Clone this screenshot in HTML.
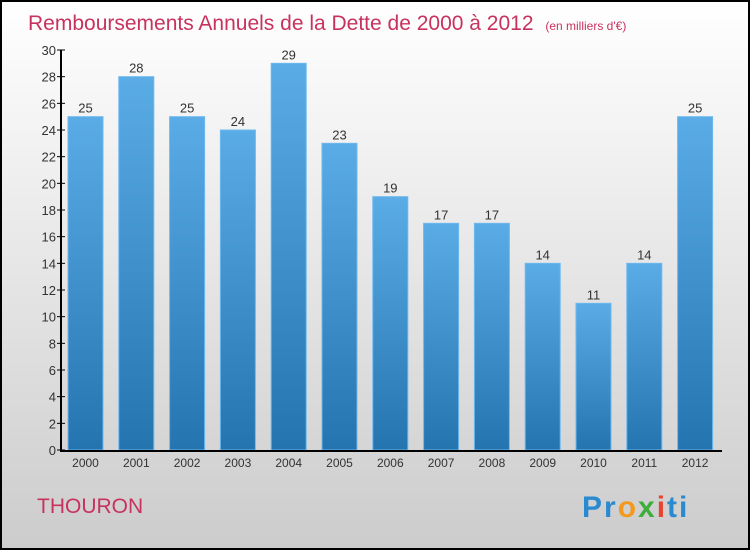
<!DOCTYPE html>
<html><head><meta charset="utf-8"><style>
body{margin:0;width:750px;height:550px;overflow:hidden;font-family:"Liberation Sans",sans-serif}
</style></head><body>
<svg width="750" height="550" xmlns="http://www.w3.org/2000/svg">
<defs>
<linearGradient id="bg" x1="0" y1="0" x2="0" y2="1"><stop offset="0" stop-color="#ffffff"/><stop offset="1" stop-color="#cccccc"/></linearGradient>
<linearGradient id="bar" x1="0" y1="0" x2="0" y2="1"><stop offset="0" stop-color="#5aace6"/><stop offset="1" stop-color="#2474b0"/></linearGradient>
</defs>
<rect x="1" y="1" width="748" height="548" fill="url(#bg)" stroke="#000" stroke-width="2"/>
<text x="28" y="30" font-size="21" fill="#c8325e">Remboursements Annuels de la Dette de 2000 à 2012 <tspan font-size="12" dx="6">(en milliers d'€)</tspan></text>
<g id="yaxis"></g><g id="bars"></g><g id="xaxis"></g>
<line x1="61" y1="50" x2="61" y2="451" stroke="#000" stroke-width="2"/>
<line x1="60" y1="451" x2="722" y2="451" stroke="#000" stroke-width="2"/>
<text x="37" y="513" font-size="21" fill="#c8325e">THOURON</text>
<text x="582" y="517" font-size="30" font-weight="bold" letter-spacing="2"><tspan fill="#2a8ad0">Pr</tspan><tspan fill="#f39a1e">o</tspan><tspan fill="#3cae3c">x</tspan><tspan fill="#e8442e">i</tspan><tspan fill="#2a8ad0">ti</tspan></text>
</svg>
<script>
const categories=["2000","2001","2002","2003","2004","2005","2006","2007","2008","2009","2010","2011","2012"];
const values=[25,28,25,24,29,23,19,17,17,14,11,14,25];
const yTicks=[0,2,4,6,8,10,12,14,16,18,20,22,24,26,28,30];
const NS="http://www.w3.org/2000/svg";
const y=v=>450-v*400/30;
const x=i=>85.5+i*50.8;
function mk(t,a,p,txt){const e=document.createElementNS(NS,t);for(const k in a)e.setAttribute(k,a[k]);if(txt!==undefined)e.textContent=txt;p.appendChild(e);return e;}
const ya=document.getElementById('yaxis'),ba=document.getElementById('bars'),xa=document.getElementById('xaxis');
yTicks.forEach(t=>{
 const l=mk('line',{x1:57,x2:65,y1:y(t),y2:y(t),stroke:'#000'},ya);
 
 
 const tx=mk('text',{x:56,y:y(t)+5,'font-size':13,fill:'#333','text-anchor':'end'},ya,t);
 
 
});
values.forEach((v,i)=>{
 const r=mk('rect',{x:x(i)-17.5,y:y(v),width:35,height:450-y(v),fill:'url(#bar)',stroke:'#6db8ee','stroke-width':1},ba);
 
 
 const t=mk('text',{x:x(i),y:y(v)-4,'font-size':13,fill:'#333','text-anchor':'middle'},ba,v);
 
 
 const c=mk('text',{x:x(i),y:467,'font-size':12,fill:'#333','text-anchor':'middle'},xa,categories[i]);
 
 
});
</script>
</body></html>
